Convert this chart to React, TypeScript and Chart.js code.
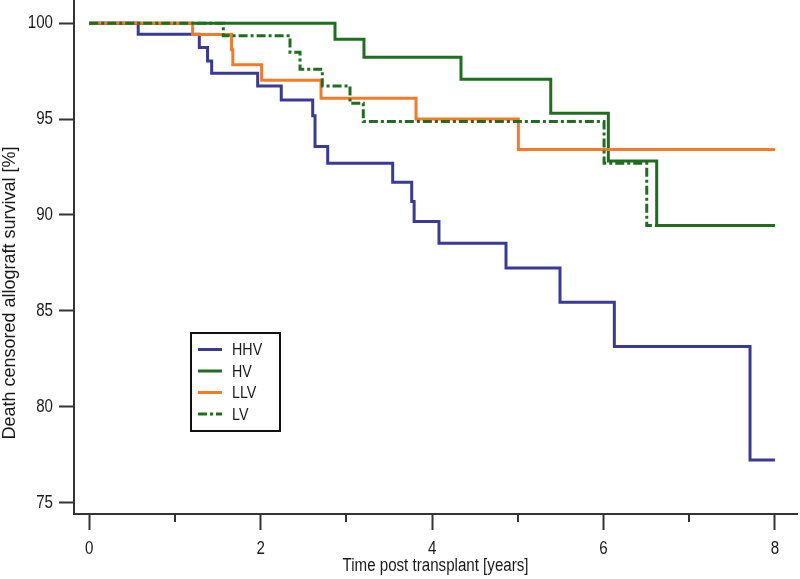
import React, { useEffect, useRef } from "react";
import { Chart, registerables } from "chart.js";

Chart.register(...registerables);

// ---- data (years post transplant, survival %) ----
const seriesNames = ["HHV", "HV", "LLV", "LV"];

const hhvTimes = [0, 0.571, 1.284, 1.38, 1.428, 1.965, 2.24, 2.607, 2.634, 2.782, 3.54, 3.762, 3.79, 4.08, 4.862, 5.492, 6.126, 7.709, 8];
const hhvSurvival = [100, 99.43, 98.73, 98.03, 97.39, 96.73, 96.0, 95.17, 93.57, 92.7, 91.71, 90.7, 89.66, 88.53, 87.23, 85.45, 83.14, 77.23, 77.23];

const hvTimes = [0, 2.867, 3.205, 4.337, 5.384, 6.056, 6.62, 8];
const hvSurvival = [100, 99.17, 98.23, 97.08, 95.31, 92.82, 89.45, 89.45];

const llvTimes = [0, 1.206, 1.66, 1.675, 2.011, 2.704, 3.812, 5.006, 8];
const llvSurvival = [100, 99.41, 98.61, 97.83, 97.03, 96.09, 95.01, 93.41, 93.41];

const lvTimes = [0, 1.564, 2.342, 2.459, 2.719, 3.042, 3.197, 6.006, 6.504, 8];
const lvSurvival = [100, 99.34, 98.49, 97.6, 96.73, 95.83, 94.87, 92.7, 89.45, 89.45];

const xTickValues = [0, 1, 2, 3, 4, 5, 6, 7, 8];
const xTickLabels = ["0", "", "2", "", "4", "", "6", "", "8"];
const yTickValues = [75, 80, 85, 90, 95, 100];

const xAxisTitle = "Time post transplant [years]";
const yAxisTitle = "Death censored allograft survival [%]";

// ---- styles ----
const COLORS = ["#3a3a96", "#1f6e1f", "#f37b28", "#1f6e1f"];
const DASHES: number[][] = [[], [], [], [9, 3, 3, 3]];
const FONT = "'Liberation Sans', Arial, sans-serif";
const SQUEEZE = 0.84;
const AXIS = "#333333";
const TEXT = "#1a1a1a";

let squeezeOn = true;

function toPoints(t: number[], s: number[]) {
  return t.map((x, i) => ({ x, y: s[i] }));
}

// narrow (condensed) rendering of horizontal text, like the reference's narrow face
const narrowTextPlugin = {
  id: "narrowText",
  beforeDraw(chart: any) {
    const ctx = chart.ctx;
    if (ctx.__narrow) return;
    const orig = ctx.fillText.bind(ctx);
    ctx.fillText = (t: string, x: number, y: number, mw?: number) => {
      if (!squeezeOn) return mw === undefined ? orig(t, x, y) : orig(t, x, y, mw);
      const w = ctx.measureText(t).width * SQUEEZE;
      const lim = mw === undefined ? w : Math.min(mw, w);
      if (lim <= 0) return;
      orig(t, x, y, lim);
    };
    ctx.__narrow = true;
  },
};

const yTitlePlugin = {
  id: "yTitle",
  afterDraw(chart: any) {
    const ctx = chart.ctx;
    ctx.save();
    squeezeOn = false;
    ctx.translate(15, 293);
    ctx.rotate(-Math.PI / 2);
    ctx.font = `18px ${FONT}`;
    ctx.fillStyle = TEXT;
    ctx.textAlign = "center";
    ctx.textBaseline = "alphabetic";
    ctx.fillText(yAxisTitle, 0, 0);
    squeezeOn = true;
    ctx.restore();
  },
};

const minorTickPlugin = {
  id: "minorTicks",
  afterDraw(chart: any) {
    const ctx = chart.ctx;
    const xs = chart.scales.x;
    ctx.save();
    ctx.strokeStyle = AXIS;
    ctx.lineWidth = 2;
    xTickValues.forEach((v, i) => {
      if (xTickLabels[i] !== "") return;
      const px = Math.round(xs.getPixelForValue(v));
      ctx.beginPath();
      ctx.moveTo(px, xs.top);
      ctx.lineTo(px, xs.top + 8);
      ctx.stroke();
    });
    ctx.restore();
  },
};

const legendPlugin = {
  id: "boxLegend",
  afterDraw(chart: any) {
    const ctx = chart.ctx;
    ctx.save();
    ctx.strokeStyle = "#111";
    ctx.lineWidth = 2;
    ctx.strokeRect(191, 333, 89, 98);
    seriesNames.forEach((name, i) => {
      const y = 349.5 + i * 21.5;
      ctx.beginPath();
      ctx.strokeStyle = COLORS[i];
      ctx.lineWidth = 3;
      ctx.setLineDash(DASHES[i]);
      ctx.moveTo(198, y);
      ctx.lineTo(222, y);
      ctx.stroke();
      ctx.setLineDash([]);
      ctx.fillStyle = TEXT;
      ctx.font = `17px ${FONT}`;
      ctx.textAlign = "left";
      ctx.textBaseline = "middle";
      ctx.fillText(name, 232, y + 1);
    });
    ctx.restore();
  },
};

export default function App() {
  const ref = useRef<HTMLCanvasElement | null>(null);

  useEffect(() => {
    if (!ref.current) return;
    const series = [
      toPoints(hhvTimes, hhvSurvival),
      toPoints(hvTimes, hvSurvival),
      toPoints(llvTimes, llvSurvival),
      toPoints(lvTimes, lvSurvival),
    ];
    const drawOrder = [2, 3, 1, 0];
    const chart = new Chart(ref.current, {
      type: "line",
      data: {
        datasets: seriesNames.map((name, i) => ({
          label: name,
          data: series[i],
          borderColor: COLORS[i],
          backgroundColor: COLORS[i],
          borderWidth: 3,
          borderDash: DASHES[i],
          borderJoinStyle: "miter" as const,
          borderCapStyle: "butt" as const,
          stepped: "before" as const,
          pointRadius: 0,
          fill: false,
          order: drawOrder[i],
        })),
      },
      options: {
        animation: false,
        responsive: false,
        devicePixelRatio: 1,
        layout: { padding: { left: 0, right: 3, top: 0, bottom: 0 } },
        plugins: {
          legend: { display: false },
          tooltip: { enabled: false },
          title: { display: false },
        },
        scales: {
          x: {
            type: "linear",
            min: -0.178,
            max: 8.257,
            afterBuildTicks: (scale: any) => {
              scale.ticks = xTickValues.map((v) => ({ value: v }));
            },
            afterFit: (scale: any) => {
              scale.height = 65;
              scale.paddingLeft = 0;
              scale.paddingRight = 0;
            },
            grid: {
              drawOnChartArea: false,
              drawTicks: true,
              tickLength: 16,
              tickWidth: 2,
              tickColor: (c: any) => (xTickLabels[xTickValues.indexOf(c.tick?.value)] === "" ? "rgba(0,0,0,0)" : AXIS),
            },
            border: { display: true, color: AXIS, width: 2 },
            ticks: {
              autoSkip: false,
              maxRotation: 0,
              padding: 8,
              color: TEXT,
              font: { family: FONT, size: 18 },
              callback: (v: any) => {
                const i = xTickValues.indexOf(Number(v));
                return i >= 0 ? xTickLabels[i] : "";
              },
            },
            title: {
              display: true,
              text: xAxisTitle,
              color: TEXT,
              font: { family: FONT, size: 18 },
              padding: { top: 0, bottom: 2 },
            },
          },
          y: {
            type: "linear",
            min: 74.41,
            max: 101.21,
            afterBuildTicks: (scale: any) => {
              scale.ticks = yTickValues.map((v) => ({ value: v }));
            },
            afterFit: (scale: any) => {
              scale.width = 74;
              scale.paddingTop = 0;
              scale.paddingBottom = 0;
            },
            grid: {
              drawOnChartArea: false,
              drawTicks: true,
              tickLength: 15,
              tickWidth: 2,
              tickColor: AXIS,
            },
            border: { display: true, color: AXIS, width: 2 },
            ticks: {
              autoSkip: false,
              padding: 6,
              color: TEXT,
              font: { family: FONT, size: 18 },
              callback: (v: any) => String(v),
            },
          },
        },
      },
      plugins: [narrowTextPlugin, yTitlePlugin, minorTickPlugin, legendPlugin],
    });
    return () => chart.destroy();
  }, []);

  return (
    <div style={{ position: "absolute", left: 0, top: 0, width: 800, height: 579, background: "#fff" }}>
      <canvas ref={ref} width={800} height={579} style={{ display: "block", width: 800, height: 579 }} />
    </div>
  );
}
